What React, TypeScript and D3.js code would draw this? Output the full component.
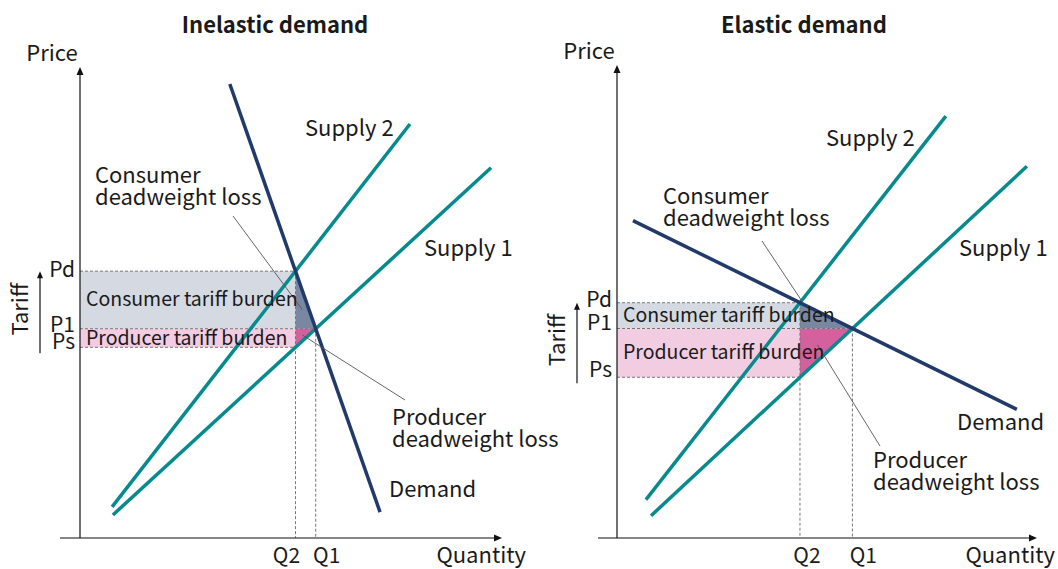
import React from "react";
import * as d3 from "d3";

type Pt = [number, number];

// curve end points as [quantity, price] on a 0-100 scale
const inelasticDemand: Pt[] = [[35.5, 96.4], [71.1, 5.5]];
const inelasticSupply1: Pt[] = [[7.8, 4.9], [97.4, 78.6]];
const inelasticSupply2: Pt[] = [[7.6, 6.6], [78.2, 87.9]];

const elasticDemand: Pt[] = [[3.8, 67.1], [95.2, 27.2]];
const elasticSupply1: Pt[] = [[8.1, 4.7], [97.6, 78.6]];
const elasticSupply2: Pt[] = [[6.9, 8.1], [78.3, 89.2]];

const titles = ["Inelastic demand", "Elastic demand"];
const priceTicks = ["Pd", "P1", "Ps"];
const quantityTicks = ["Q2", "Q1"];
const curveNames = ["Supply 2", "Supply 1", "Demand"];
const burdenLabels = ["Consumer tariff burden", "Producer tariff burden"];
const dwlLabels = [
  ["Consumer", "deadweight loss"],
  ["Producer", "deadweight loss"],
];

const FONT = "'Noto Sans CJK JP', 'Noto Sans', sans-serif";
const TEAL = "#078a8e";
const NAVY = "#213a6a";

const intersect = (a: Pt[], b: Pt[]): Pt => {
  const [[x1, y1], [x2, y2]] = a;
  const [[x3, y3], [x4, y4]] = b;
  const d = (x1 - x2) * (y3 - y4) - (y1 - y2) * (x3 - x4);
  const t = ((x1 - x3) * (y3 - y4) - (y1 - y3) * (x3 - x4)) / d;
  return [x1 + t * (x2 - x1), y1 + t * (y2 - y1)];
};

const priceAt = (l: Pt[], q: number) => {
  const [[x1, y1], [x2, y2]] = l;
  return y1 + ((q - x1) * (y2 - y1)) / (x2 - x1);
};

type Layout = {
  xRange: [number, number];
  yRange: [number, number];
  xAxisStart: number;
  qtyEnd: number;
  title: Pt;
  qDx: [number, number];
  pDy: [number, number, number];
  curveLabels: Pt[];
  dwlText: Pt[];
  consumerLeaderFrom: Pt;
  producerLeaderTo: Pt;
  consumerApex: number;
};

const layouts: Layout[] = [
  {
    xRange: [80, 502],
    yRange: [538, 67],
    xAxisStart: 60,
    qtyEnd: 526,
    title: [275, 33],
    qDx: [-9, 11],
    pDy: [6, 3, 2],
    curveLabels: [[305, 136], [424, 256], [389, 497]],
    dwlText: [[95, 183], [392, 425]],
    consumerLeaderFrom: [233, 216],
    producerLeaderTo: [405, 400],
    consumerApex: 0,
  },
  {
    xRange: [617, 1037],
    yRange: [538, 65],
    xAxisStart: 598,
    qtyEnd: 1055,
    title: [804, 33],
    qDx: [7, 11],
    pDy: [4, 1, 0],
    curveLabels: [[826, 146], [959, 256], [957, 430]],
    dwlText: [[663, 204], [873, 468]],
    consumerLeaderFrom: [762, 241],
    producerLeaderTo: [880, 446],
    consumerApex: 0.9,
  },
];

const Panel = ({
  title,
  demand,
  supply1,
  supply2,
  lay,
}: {
  title: string;
  demand: Pt[];
  supply1: Pt[];
  supply2: Pt[];
  lay: Layout;
}) => {
  const x = d3.scaleLinear().domain([0, 100]).range(lay.xRange);
  const y = d3.scaleLinear().domain([0, 100]).range(lay.yRange);
  const line = d3
    .line<Pt>()
    .x((d) => x(d[0]))
    .y((d) => y(d[1]));

  const [q2, pd] = intersect(demand, supply2);
  const [q1, p1] = intersect(demand, supply1);
  const ps = priceAt(supply1, q2);

  const consTri: Pt[] = [[q2, pd], [q2, p1], [q1, p1]];
  const prodTri: Pt[] = [[q2, p1], [q1, p1], [q2, ps]];
  const centroid = (t: Pt[]): Pt => [
    d3.mean(t, (d) => x(d[0]))!,
    d3.mean(t, (d) => y(d[1]))!,
  ];
  const cc = centroid(consTri);
  const apex: Pt = [x(q2) + 2, y(pd) - 1];
  const consTarget: Pt = [
    cc[0] + (apex[0] - cc[0]) * lay.consumerApex,
    cc[1] + (apex[1] - cc[1]) * lay.consumerApex,
  ];
  const pc = centroid(prodTri);

  const x0 = x(0);
  const y0 = y(0);
  const dash = { stroke: "#777", strokeWidth: 1, strokeDasharray: "3,2", fill: "none" };
  const prices = [pd, p1, ps];
  const qs = [q2, q1];
  const curves = [supply2, supply1, demand];

  return (
    <g fontFamily={FONT} fill="#1a1a1a">
      <text x={lay.title[0]} y={lay.title[1]} textAnchor="middle" fontSize={22} fontWeight="bold">
        {title}
      </text>

      {/* burden rectangles */}
      <rect x={x0} y={y(pd)} width={x(q2) - x0} height={y(p1) - y(pd)} fill="#d4d9e2" />
      <rect x={x0} y={y(p1)} width={x(q2) - x0} height={y(ps) - y(p1)} fill="#f2cce0" />
      <path d={line(consTri)! + "Z"} fill="#7a87a2" />
      <path d={line(prodTri)! + "Z"} fill="#d3619d" />

      {/* dashed guides */}
      <line x1={x0} x2={x(q2)} y1={y(pd)} y2={y(pd)} {...dash} />
      <line x1={x0} x2={x(q1)} y1={y(p1)} y2={y(p1)} {...dash} />
      <line x1={x0} x2={x(q2)} y1={y(ps)} y2={y(ps)} {...dash} />
      <line x1={x(q2)} x2={x(q2)} y1={y(pd)} y2={y0} {...dash} />
      <line x1={x(q1)} x2={x(q1)} y1={y(p1)} y2={y0} {...dash} />

      {/* axes */}
      <line x1={x0} x2={x0} y1={y0} y2={y(100) + 5} stroke="#111" strokeWidth={1.2} />
      <path d={`M${x0},${y(100)} l-3.5,8 l7,0 Z`} fill="#111" />
      <line x1={lay.xAxisStart} x2={x(100) - 5} y1={y0} y2={y0} stroke="#111" strokeWidth={1.2} />
      <path d={`M${x(100)},${y0} l-8,-3.5 l0,7 Z`} fill="#111" />
      <text x={x0 - 28} y={y(100) - 6} textAnchor="middle" fontSize={22}>
        Price
      </text>
      <text x={lay.qtyEnd} y={563} textAnchor="end" fontSize={22}>
        Quantity
      </text>

      {priceTicks.map((t, i) => (
        <text key={t} x={x0 - 5} y={y(prices[i]) + lay.pDy[i]} textAnchor="end" fontSize={21}>
          {t}
        </text>
      ))}
      {quantityTicks.map((t, i) => (
        <text key={t} x={x(qs[i]) + lay.qDx[i]} y={563} textAnchor="middle" fontSize={21}>
          {t}
        </text>
      ))}

      {/* tariff arrow */}
      <line x1={x0 - 40} x2={x0 - 40} y1={y(ps) + 6} y2={y(pd) + 5} stroke="#111" strokeWidth={1.2} />
      <path d={`M${x0 - 40},${y(pd)} l-3,7 l6,0 Z`} fill="#111" />
      <text
        transform={`translate(${x0 - 52},${(y(pd) + y(ps)) / 2}) rotate(-90)`}
        textAnchor="middle"
        fontSize={22}
      >
        Tariff
      </text>

      {/* curves */}
      {curves.map((c, i) => (
        <path
          key={i}
          d={line(c)!}
          stroke={i === 2 ? NAVY : TEAL}
          strokeWidth={3.5}
          fill="none"
        />
      ))}

      {/* leader lines */}
      <line
        x1={lay.consumerLeaderFrom[0]}
        y1={lay.consumerLeaderFrom[1]}
        x2={consTarget[0]}
        y2={consTarget[1]}
        stroke="#555"
        strokeWidth={0.9}
      />
      <line
        x1={pc[0]}
        y1={pc[1]}
        x2={lay.producerLeaderTo[0]}
        y2={lay.producerLeaderTo[1]}
        stroke="#555"
        strokeWidth={0.9}
      />

      <text x={x0 + 6} y={(y(pd) + y(p1)) / 2 + 6.5} fontSize={19.5}>
        {burdenLabels[0]}
      </text>
      <text x={x0 + 6} y={(y(p1) + y(ps)) / 2 + 6.5} fontSize={19.5}>
        {burdenLabels[1]}
      </text>

      {curveNames.map((n, i) => (
        <text key={n} x={lay.curveLabels[i][0]} y={lay.curveLabels[i][1]} fontSize={22}>
          {n}
        </text>
      ))}

      {dwlLabels.map((lines, i) => (
        <text key={i} x={lay.dwlText[i][0]} y={lay.dwlText[i][1]} fontSize={22}>
          {lines.map((l, j) => (
            <tspan key={j} x={lay.dwlText[i][0]} dy={j === 0 ? 0 : 22}>
              {l}
            </tspan>
          ))}
        </text>
      ))}
    </g>
  );
};

export default function App() {
  return (
    <svg
      width={1058}
      height={569}
      style={{ position: "absolute", left: 0, top: 0, background: "#fff" }}
    >
      <Panel
        title={titles[0]}
        demand={inelasticDemand}
        supply1={inelasticSupply1}
        supply2={inelasticSupply2}
        lay={layouts[0]}
      />
      <Panel
        title={titles[1]}
        demand={elasticDemand}
        supply1={elasticSupply1}
        supply2={elasticSupply2}
        lay={layouts[1]}
      />
    </svg>
  );
}
